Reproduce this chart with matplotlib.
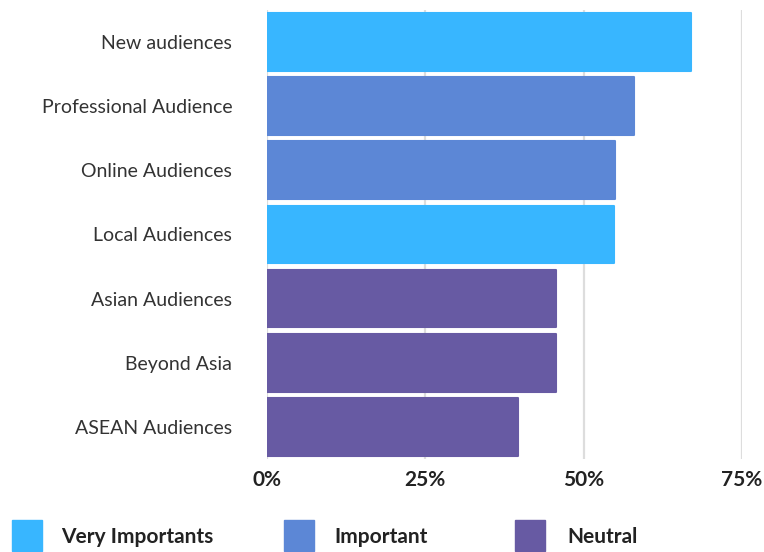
import matplotlib.pyplot as plt
from matplotlib.patches import Rectangle

plt.rcParams['font.family'] = ['Lato', 'DejaVu Sans']

categories = ['New audiences', 'Professional Audience', 'Online Audiences',
              'Local Audiences', 'Asian Audiences', 'Beyond Asia', 'ASEAN Audiences']
values = [67, 58, 55, 54.8, 45.6, 45.6, 39.6]
levels = ['Very Importants', 'Important', 'Important',
          'Very Importants', 'Neutral', 'Neutral', 'Neutral']
level_names = ['Very Importants', 'Important', 'Neutral']
level_colors = {'Very Importants': '#38b6ff', 'Important': '#5c87d6', 'Neutral': '#675aa3'}
xticks = [0, 25, 50, 75]

fig = plt.figure(figsize=(7.64, 5.52), dpi=100)
ax = fig.add_axes([0.3495, 0.1685, 0.6215, 0.8135])

ypos = list(range(len(categories)))
colors = [level_colors[l] for l in levels]
# edge in the same colour with round joins gives the soft corners
ax.barh(ypos, values, height=0.9, color=colors, edgecolor=colors,
        linewidth=1.5, joinstyle='round', zorder=3)

ax.set_ylim(len(categories) - 0.5, -0.5)
ax.set_xlim(0, 75)
ax.set_yticks(ypos)
ax.set_yticklabels(categories, fontsize=14, color='#333333')
ax.set_xticks(xticks)
ax.set_xticklabels([f'{t}%' for t in xticks], fontsize=15,
                   fontweight='bold', color='#222222')
ax.tick_params(axis='y', length=0, pad=25)
ax.tick_params(axis='x', length=0, pad=8)
ax.grid(axis='x', color='#dddddd', linewidth=1.6, zorder=0)
for s in ax.spines.values():
    s.set_visible(False)

# legend drawn by hand along the bottom
box_x = [12, 284, 515]
text_x = [61, 334, 567]
for name, bx, tx in zip(level_names, box_x, text_x):
    fig.patches.append(Rectangle((bx / 764, 1 - 551 / 552), 30 / 764, 31 / 552,
                                 transform=fig.transFigure,
                                 color=level_colors[name]))
    fig.text(tx / 764, 1 - 537 / 552, name, fontsize=15, fontweight='bold',
             color='#222222', va='center', ha='left')

fig.savefig('out.png', dpi=100)
